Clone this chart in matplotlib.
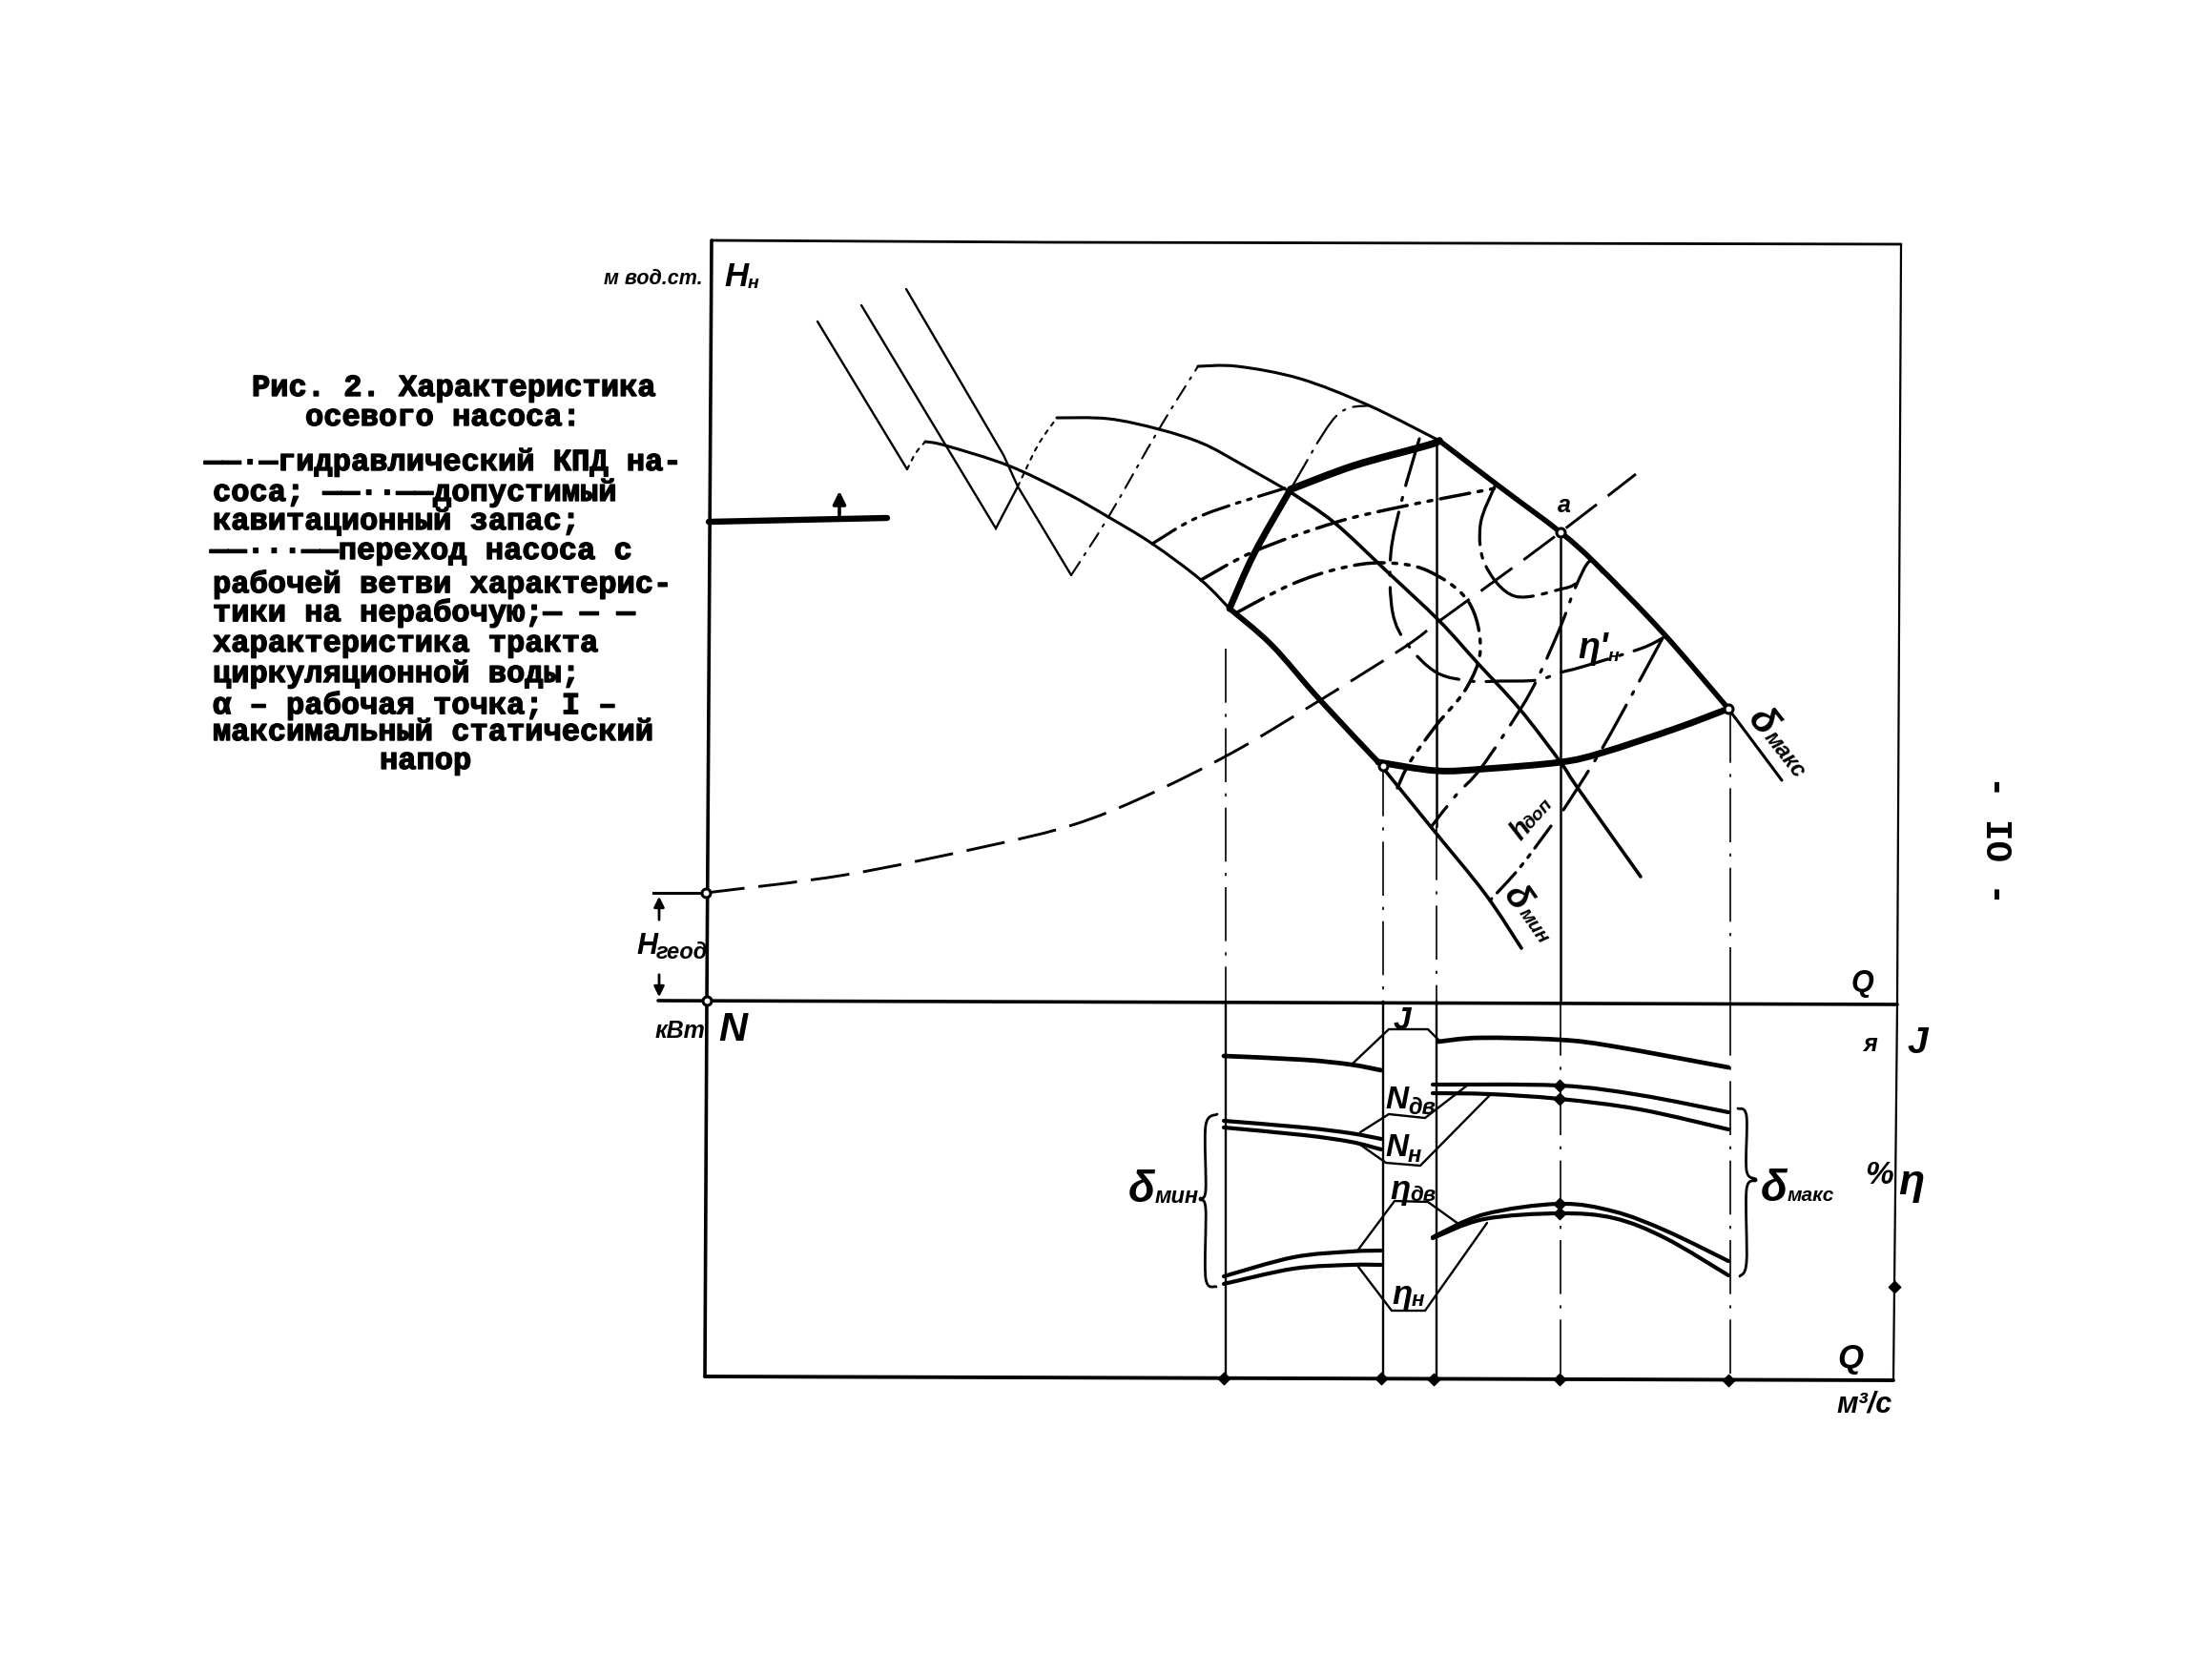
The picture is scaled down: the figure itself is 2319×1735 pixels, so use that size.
import numpy as np
import matplotlib
matplotlib.use("Agg")
import matplotlib.pyplot as plt
import matplotlib.patheffects as pe
from matplotlib.path import Path
from matplotlib.patches import PathPatch

# ---- values, in scan pixels (x, y) ----
frame_top = [(746, 252), (1100, 254), (1993, 256)]
frame_left = [(746, 252), (741, 1050), (739, 1443)]
frame_right = [(1993, 256), (1989, 1053), (1985, 1447)]
frame_mid = [(690, 1049), (1989, 1053)]
frame_bottom = [(739, 1443), (1985, 1447)]

h_q_1 = [(970, 463), (991, 467), (1057, 488), (1118, 517), (1162, 542), (1208, 570), (1259, 608), (1289, 638)]
h_q_1b = [(1289, 638), (1333, 676), (1384, 734), (1445, 799)]
h_q_1c = [(1445, 799), (1501, 868), (1557, 937), (1595, 994)]
h_q_2 = [(1108, 438), (1162, 439), (1215, 450), (1261, 465), (1302, 487), (1353, 516)]
h_q_2b = [(1353, 516), (1399, 548), (1455, 600), (1509, 651), (1549, 695), (1593, 743), (1636, 799), (1654, 826), (1720, 919)]
h_q_3 = [(1256, 384), (1297, 384), (1363, 397), (1435, 425), (1509, 462)]
h_q_3b = [(1509, 462), (1572, 510), (1636, 558), (1674, 592), (1743, 663), (1812, 743)]
h_q_3c = [(1812, 743), (1868, 818)]

branch_1 = [(857, 337), (951, 492)]
branch_1_dot = [(951, 492), (960, 475), (970, 463)]
branch_2 = [(903, 320), (1044, 554), (1067, 510)]
branch_2_dot = [(1067, 510), (1088, 467), (1108, 438)]
branch_3 = [(950, 303), (1052, 477), (1067, 510), (1123, 603)]
branch_3_dot = [(1123, 603), (1162, 542), (1215, 450), (1256, 384)]

margin_dashdot_a = [(1353, 513), (1400, 437), (1435, 425)]
limit_left = [(1289, 638), (1315, 580), (1353, 513)]
limit_top = [(1353, 513), (1420, 488), (1496, 467), (1509, 462)]
limit_bottom = [(1445, 799), (1506, 808), (1557, 806), (1636, 799), (1680, 789), (1756, 764), (1812, 743)]

eta_a = [(1208, 570), (1261, 540), (1353, 510)]
eta_b = [(1259, 608), (1315, 578), (1399, 548), (1470, 531), (1567, 512)]
eta_c = [(1297, 642), (1353, 613), (1404, 596), (1450, 590), (1496, 598), (1539, 630), (1552, 680), (1537, 722), (1506, 760), (1478, 799), (1465, 826)]
eta_outer = [(1488, 460), (1470, 523), (1458, 581), (1460, 642), (1476, 676), (1506, 705), (1542, 714), (1572, 714), (1611, 713), (1636, 705), (1659, 699), (1720, 680), (1743, 669)]
eta_inner = [(1567, 510), (1552, 550), (1557, 592), (1588, 625), (1639, 617), (1652, 612)]
hdop_1 = [(1743, 669), (1710, 730), (1680, 784), (1654, 826), (1639, 849)]
hdop_1b = [(1626, 866), (1593, 910), (1562, 944)]
hdop_2 = [(1680, 600), (1667, 588), (1652, 615), (1636, 657), (1613, 709), (1593, 745), (1552, 806), (1527, 833), (1501, 866)]

system_curve = [(740, 936), (887, 917), (1035, 887), (1124, 865), (1200, 835), (1292, 789), (1384, 734), (1473, 678), (1509, 651), (1567, 609), (1636, 558), (1715, 497)]
static_head = [(743, 547), (930, 543)]

guide_x = [1285, 1450, 1506, 1636, 1814]
guide_top = [680, 799, 462, 558, 743]
guide_split = [1050, 1050, 866, 1050, 1050]

j_left = [(1283, 1107), (1367, 1111), (1416, 1116), (1448, 1122)]
j_right = [(1508, 1092), (1551, 1088), (1635, 1090), (1692, 1097), (1812, 1119)]
nd_left = [(1283, 1175), (1367, 1182), (1416, 1188), (1448, 1194)]
nd_right = [(1502, 1137), (1635, 1138), (1719, 1148), (1812, 1166)]
nn_left = [(1283, 1182), (1367, 1190), (1416, 1197), (1448, 1205)]
nn_right = [(1502, 1146), (1562, 1147), (1635, 1152), (1719, 1163), (1812, 1184)]
ed_left = [(1283, 1338), (1356, 1318), (1416, 1312), (1448, 1311)]
ed_right = [(1502, 1297), (1556, 1273), (1635, 1262), (1692, 1270), (1746, 1290), (1812, 1322)]
en_left = [(1283, 1346), (1356, 1330), (1416, 1326), (1448, 1326)]
en_right = [(1502, 1298), (1556, 1278), (1635, 1272), (1692, 1277), (1746, 1298), (1812, 1337)]

call_j = [(1418, 1115), (1456, 1079), (1497, 1079), (1510, 1092)]
call_nd = [(1426, 1187), (1456, 1168), (1494, 1172), (1538, 1138)]
call_nn = [(1426, 1200), (1453, 1219), (1489, 1222), (1562, 1148)]
call_ed = [(1424, 1310), (1462, 1259), (1497, 1260), (1529, 1283)]
call_en = [(1424, 1328), (1459, 1374), (1494, 1374), (1559, 1282)]

brace_left = [(1276, 1168), (1264, 1180), (1264, 1248), (1258, 1257), (1264, 1267), (1264, 1340), (1275, 1349)]
brace_right = [(1822, 1162), (1831, 1170), (1831, 1227), (1841, 1237), (1831, 1247), (1831, 1323), (1824, 1338)]

open_points = [(740, 936), (741, 1049), (1636, 558), (1812, 743), (1450, 803)]
solid_points = [(1283, 1445), (1448, 1445), (1503, 1446), (1635, 1446), (1812, 1447),
                (1635, 1138), (1635, 1152), (1635, 1262), (1635, 1272), (1986, 1349)]

caption = [
    (264, 407, "Рис. 2. Характеристика"),
    (320, 438, "осевого насоса:"),
    (214, 485, "——·—гидравлический КПД на-"),
    (223, 517, "соса; ——··——допустимый"),
    (223, 547, "кавитационный запас;"),
    (220, 578, "——···——переход насоса с"),
    (223, 613, "рабочей ветви характерис-"),
    (223, 643, "тики на нерабочую;— — —"),
    (223, 675, "характеристика тракта"),
    (223, 707, "циркуляционной воды;"),
    (223, 740, "α – рабочая точка; I –"),
    (223, 768, "максимальный статический"),
    (398, 798, "напор"),
]

# ---- styles ----
DD = (0, (9, 2.6, 1.2, 2.6, 1.2, 2.6))
DASH = (0, (14, 5))
LD = (0, (16, 4, 1, 4))
GD = (0, (34, 7, 2, 7))
BLACK = "#000000"

plt.rcParams["font.family"] = ["Liberation Sans", "DejaVu Sans"]
fig = plt.figure(figsize=(23.19, 17.35), dpi=100, facecolor="white")
ax = fig.add_axes([0, 0, 1, 1])
ax.set_xlim(0, 2319)
ax.set_ylim(1735, 0)
ax.axis("off")


def curve(pts, lw=2.0, ls="-", cap="round"):
    """Smooth drawing stroke passing through the read points."""
    p = np.asarray(pts, float)
    if len(p) < 3:
        ax.plot(p[:, 0], p[:, 1], color=BLACK, lw=lw, ls=ls, solid_capstyle=cap)
        return
    verts, codes = [p[0]], [Path.MOVETO]
    for i in range(len(p) - 1):
        p0 = p[max(i - 1, 0)]
        p1, p2 = p[i], p[i + 1]
        p3 = p[min(i + 2, len(p) - 1)]
        verts += [p1 + (p2 - p0) / 6, p2 - (p3 - p1) / 6, p2]
        codes += [Path.CURVE4] * 3
    ax.add_patch(PathPatch(Path(verts, codes), fill=False, edgecolor=BLACK, lw=lw,
                           linestyle=ls, capstyle=cap, joinstyle="round"))


def poly(pts, lw=1.8, ls="-"):
    p = np.asarray(pts, float)
    ax.plot(p[:, 0], p[:, 1], color=BLACK, lw=lw, ls=ls, solid_joinstyle="miter",
            solid_capstyle="round")


def label(x, y, main, sub=None, size=26, rot=0, subsize=None, dx=None, dy=8):
    ax.text(x, y, main, fontsize=size, style="italic", fontweight="bold", rotation=rot,
            ha="center", va="center", color=BLACK, family="Liberation Sans")
    if sub:
        a = np.deg2rad(rot)
        d = dx if dx is not None else size * 1.3
        ax.text(x + d * np.cos(a) + dy * np.sin(a), y - d * np.sin(a) + dy * np.cos(a), sub,
                fontsize=subsize or size * 0.62, style="italic", fontweight="bold", rotation=rot,
                ha="left", va="center", rotation_mode="anchor", color=BLACK, family="Liberation Sans")


# frames
for seg, w in ((frame_top, 2.0), (frame_left, 2.6), (frame_mid, 2.6), (frame_bottom, 2.8)):
    poly(seg, lw=w)
poly(frame_right, lw=1.6)

# pump curves
for c in (h_q_1, h_q_2, h_q_3):
    curve(c, lw=2.2)
curve(h_q_1b, lw=4.2)
curve(h_q_1c, lw=2.6)
curve(h_q_2b, lw=2.6)
curve(h_q_3b, lw=4.0)
curve(h_q_3c, lw=2.2)
for b in (branch_1, branch_2, branch_3):
    poly(b, lw=1.7)
for b in (branch_1_dot, branch_2_dot):
    curve(b, lw=1.5, ls=(0, (2, 3)))
curve(branch_3_dot, lw=1.5, ls=(0, (8, 4, 1.2, 4)))
curve(margin_dashdot_a, lw=1.6, ls=LD)

# limits of the working field
curve(limit_left, lw=5.0)
curve(limit_top, lw=5.5)
curve(limit_bottom, lw=5.0)

# efficiency and cavitation margin
curve(eta_a, lw=2.3, ls=DD)
curve(eta_b, lw=2.5, ls=DD)
curve(eta_c, lw=2.5, ls=DD)
curve(eta_outer, lw=2.3, ls=LD)
curve(eta_inner, lw=2.3, ls=(0, (20, 3, 1.5, 3)))
curve(hdop_1, lw=2.3, ls=LD)
curve(hdop_1b, lw=2.3, ls=DD)
curve(hdop_2, lw=2.3, ls=LD)

# system line, static head
curve(system_curve, lw=2.1, ls=DASH, cap="butt")
poly(static_head, lw=4.6)
ax.annotate("", xy=(880, 512), xytext=(880, 543),
            arrowprops=dict(arrowstyle="-|>", lw=2.6, color=BLACK, mutation_scale=20))

# guide lines
upper_dashed = (1285, 1450, 1814)
lower_dashed = (1636, 1814)
for x, t, s in zip(guide_x, guide_top, guide_split):
    dashed = x in upper_dashed
    ax.plot([x, x], [t, s], color=BLACK, lw=1.2 if dashed else 1.8, ls=GD if dashed else "-")
    if s < 1050:
        ax.plot([x, x], [s, 1050], color=BLACK, lw=1.2, ls=GD)
    dashed = x in lower_dashed
    ax.plot([x, x], [1050, 1445], color=BLACK, lw=1.2 if dashed else 1.7, ls=GD if dashed else "-")

# lower panel
for c in (j_left, j_right):
    curve(c, lw=3.4)
for c in (nd_left, nd_right, nn_left, nn_right, ed_left, ed_right, en_left, en_right):
    curve(c, lw=3.0)
for c in (call_j, call_nd, call_nn, call_ed, call_en):
    poly(c, lw=1.7)
curve(brace_left, lw=2.0)
curve(brace_right, lw=2.0)

# points
ox, oy = zip(*open_points)
ax.scatter(ox, oy, s=42, facecolor="white", edgecolor=BLACK, linewidth=2.2, zorder=5)
sx, sy = zip(*solid_points)
ax.scatter(sx, sy, s=40, color=BLACK, marker="D", zorder=5)

# H geod dimension
ax.plot([685, 741], [936, 936], color=BLACK, lw=2.2)
ax.annotate("", xy=(691, 937), xytext=(691, 967),
            arrowprops=dict(arrowstyle="-|>", lw=2, color=BLACK, mutation_scale=16))
ax.annotate("", xy=(691, 1048), xytext=(691, 1019),
            arrowprops=dict(arrowstyle="-|>", lw=2, color=BLACK, mutation_scale=16))

# hand lettering
label(685, 292, "м вод.ст.", size=15.5)
label(772, 290, "H", "н", size=25, dx=12, dy=7, subsize=14)
label(678, 992, "H", "геод", size=22, dx=10, dy=6, subsize=17)
label(713, 1081, "кВт", size=18)
label(768, 1080, "N", size=30)
label(1952, 1031, "Q", size=22)
label(2010, 1094, "J", size=28)
label(1961, 1095, "я", size=18)
label(1970, 1232, "%", size=24)
label(2004, 1240, "η", size=32)
label(1940, 1424, "Q", size=25)
label(1955, 1472, "м³/с", size=22)
label(1640, 530, "a", size=18)
label(1670, 680, "η'", "н", size=27, dx=16, subsize=14)
label(1847, 757, "δ", "макс", size=29, rot=-52, dx=14, dy=2, subsize=17)
label(1590, 942, "δ", "мин", size=27, rot=-55, dx=13, dy=2, subsize=15)
label(1594, 870, "h", "доп", size=21, rot=48, dx=7, dy=3, subsize=14)
label(1197, 1248, "δ", "мин", size=33, dx=14, dy=6, subsize=17)
label(1860, 1247, "δ", "макс", size=33, dx=14, dy=6, subsize=15)
label(1470, 1070, "J", size=24)
label(1464, 1153, "N", "дв", size=24, dx=12, dy=8, subsize=17)
label(1464, 1203, "N", "н", size=24, dx=12, dy=8, subsize=17)
label(1468, 1247, "η", "дв", size=25, dx=10, dy=6, subsize=16)
label(1470, 1357, "η", "н", size=25, dx=10, dy=6, subsize=16)

# caption and page number
heavy = [pe.withStroke(linewidth=1.0, foreground=BLACK)]
for x, y, s in caption:
    ax.text(x, y, s, fontsize=23.1, family=["Liberation Mono", "DejaVu Sans Mono"], fontweight="bold",
            ha="left", va="center", color=BLACK, path_effects=heavy)
ax.text(2092, 880, "- IO -", rotation=-90, fontsize=27, family="Liberation Mono", fontweight="bold",
        ha="center", va="center", color=BLACK)

fig.savefig("out.png", dpi=100, facecolor="white")
